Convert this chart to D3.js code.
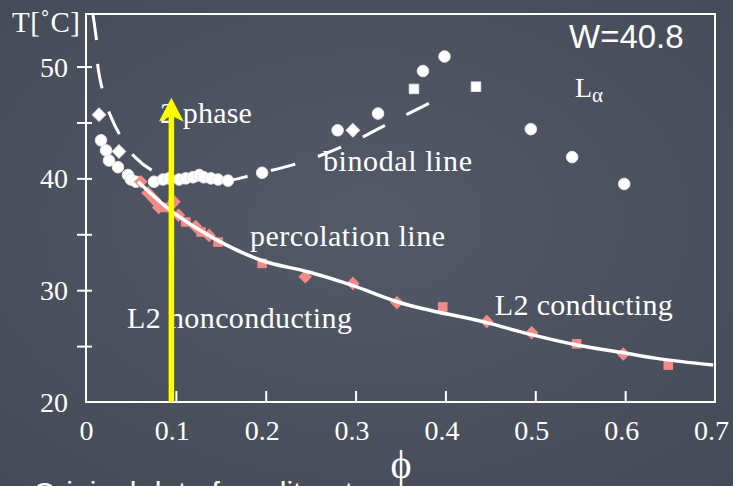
<!DOCTYPE html>
<html>
<head>
<meta charset="utf-8">
<script src="https://cdn.jsdelivr.net/npm/d3@7"></script>
<style>
  html, body { margin: 0; padding: 0; background: #4b505e; }
  svg { display: block; }
</style>
</head>
<body>
<svg id="chart" width="733" height="486"></svg>
<script>
// ---------- data ----------
const xTicks = [0, 0.1, 0.2, 0.3, 0.4, 0.5, 0.6, 0.7];
const xTickLabels = ["0", "0.1", "0.2", "0.3", "0.4", "0.5", "0.6", "0.7"];
const yTicks = [20, 25, 30, 35, 40, 45, 50];
const yTickLabels = ["20", "", "30", "", "40", "", "50"];

// binodal (white) measured points
const binodalPhi = [0.0145, 0.0167, 0.0223, 0.0367, 0.0256, 0.0356, 0.0467, 0.050, 0.0556,
  0.0757, 0.0857, 0.0923, 0.1035, 0.111, 0.119, 0.126, 0.131, 0.139, 0.147, 0.158,
  0.196, 0.280, 0.297, 0.325, 0.365, 0.375, 0.399, 0.434, 0.495, 0.541, 0.599];
const binodalT = [45.7, 43.4, 42.5, 42.4, 41.6, 41.0, 40.3, 39.9, 39.7,
  39.7, 39.9, 40.0, 39.9, 40.0, 40.1, 40.3, 40.1, 40.0, 39.9, 39.8,
  40.5, 44.3, 44.3, 45.8, 48.0, 49.6, 50.9, 48.2, 44.4, 41.9, 39.5];
const binodalShape = ["d", "c", "c", "d", "c", "c", "c", "c", "c",
  "c", "c", "c", "c", "c", "c", "c", "c", "c", "c", "c",
  "c", "c", "d", "c", "s", "c", "c", "s", "c", "c", "c"];

// percolation (pink) measured points
const percPhi = [0.061, 0.069, 0.076, 0.081, 0.089, 0.098, 0.103, 0.111, 0.122, 0.128, 0.137, 0.147,
  0.196, 0.244, 0.297, 0.346, 0.397, 0.446, 0.496, 0.546, 0.598, 0.648];
const percT = [39.7, 38.7, 38.1, 37.4, 37.4, 37.9, 36.7, 36.1, 35.7, 35.2, 34.9, 34.3,
  32.4, 31.2, 30.6, 28.9, 28.5, 27.2, 26.2, 25.2, 24.3, 23.3];
const percShape = ["d", "d", "d", "d", "s", "d", "d", "s", "d", "s", "d", "s",
  "s", "d", "d", "d", "s", "d", "d", "s", "d", "s"];

// percolation fit line
const percLinePhi = [0.058, 0.093, 0.141, 0.194, 0.249, 0.294, 0.349, 0.446, 0.497, 0.546, 0.598, 0.635, 0.698];
const percLineT = [39.7, 37.2, 34.7, 32.7, 31.6, 30.5, 28.9, 27.1, 26.0, 25.1, 24.4, 23.9, 23.3];

// binodal guide line (dashed)
const binLinePhi = [0.0078, 0.012, 0.0134, 0.019, 0.0267, 0.039, 0.0545, 0.079, 0.116, 0.158, 0.185, 0.238, 0.290, 0.339, 0.389];
const binLineT = [54.6, 52.1, 49.9, 47.7, 45.7, 43.7, 41.9, 40.5, 39.9, 39.8, 40.3, 41.4, 43.0, 45.0, 47.0];

// yellow arrow
const arrowPhi = 0.095;
const arrowFromT = 20;
const arrowToT = 47.2;

// text annotations
const annoText = ["2 phase", "binodal line", "percolation line", "L2 nonconducting", "L2 conducting"];
const annoPhi = [0.0823, 0.2637, 0.1825, 0.0456, 0.455];
const annoT = [44.96, 40.66, 33.95, 26.6, 27.78];
const annoWidth = [92, 149, 195, 225, 178];

// ---------- drawing ----------
const W = 733, H = 486;
const mL = 86, mR = 715, mT = 14, mB = 402;
const svg = d3.select("#chart");
const serif = "'Liberation Serif', 'Times New Roman', serif";
const sans = "'Liberation Sans', Arial, sans-serif";

const x = d3.scaleLinear().domain([0, 0.7]).range([mL, mR]);
const y = d3.scaleLinear().domain([20, 54.7]).range([mB, mT]);

// background
const defs = svg.append("defs");
const grad = defs.append("radialGradient").attr("id", "bg").attr("cx", "50%").attr("cy", "45%").attr("r", "75%");
grad.append("stop").attr("offset", "0%").attr("stop-color", "#545968");
grad.append("stop").attr("offset", "100%").attr("stop-color", "#454a57");
svg.append("rect").attr("width", W).attr("height", H).attr("fill", "url(#bg)");

// frame
svg.append("rect")
  .attr("x", mL).attr("y", mT)
  .attr("width", mR - mL).attr("height", mB - mT)
  .attr("fill", "none").attr("stroke", "#fff").attr("stroke-width", 2);

// x axis
const xAxis = d3.axisBottom(x)
  .tickValues(xTicks)
  .tickFormat((d, i) => xTickLabels[i])
  .tickSizeInner(-11).tickSizeOuter(0);
const gx = svg.append("g").attr("transform", `translate(0,${mB})`).call(xAxis);
gx.select(".domain").remove();
gx.selectAll(".tick line").attr("stroke", "#fff").attr("stroke-width", 2)
  .filter(d => d === 0 || d === 0.7).remove();
gx.selectAll(".tick text")
  .attr("fill", "#fff").attr("font-family", serif).attr("font-size", 28)
  .attr("y", 38).attr("dy", 0)
  .attr("dx", d => d === 0 ? 0 : -4);

// y axis
const yAxis = d3.axisLeft(y)
  .tickValues(yTicks)
  .tickFormat((d, i) => yTickLabels[i])
  .tickSizeInner(9).tickSizeOuter(0);
const gy = svg.append("g").attr("transform", `translate(${mL},0)`).call(yAxis);
gy.select(".domain").remove();
gy.selectAll(".tick line").attr("stroke", "#fff").attr("stroke-width", 2).attr("x2", 6).attr("x1", -9)
  .filter(d => d === 20).remove();
gy.selectAll(".tick text")
  .attr("fill", "#fff").attr("font-family", serif).attr("font-size", 28)
  .attr("x", -18).attr("dy", "0.34em");

// axis titles
svg.append("text").attr("x", 12).attr("y", 32)
  .attr("fill", "#fff").attr("font-family", serif).attr("font-size", 29)
  .attr("textLength", 68).attr("lengthAdjust", "spacing")
  .text("T[˚C]");
svg.append("text").attr("x", 401).attr("y", 478).attr("text-anchor", "middle")
  .attr("fill", "#fff").attr("font-family", serif).attr("font-size", 40)
  .text("ϕ");

// binodal dashed line
const binLine = binLinePhi.map((p, i) => [p, binLineT[i]]);
svg.append("path")
  .attr("d", d3.line().x(d => x(d[0])).y(d => y(d[1])).curve(d3.curveCatmullRom)(binLine))
  .attr("fill", "none").attr("stroke", "#fff").attr("stroke-width", 3)
  .attr("stroke-dasharray", "25,24");

// symbols: diamonds are squares turned by 45 degrees
function sym(shape, size) {
  const t = shape === "c" ? d3.symbolCircle : d3.symbolSquare;
  return d3.symbol().type(t).size(size)();
}
function place(d) {
  return `translate(${x(d.p)},${y(d.t)})` + (d.s === "d" ? " rotate(45)" : "");
}

// binodal points
const binPts = binodalPhi.map((p, i) => ({ p, t: binodalT[i], s: binodalShape[i] }));
svg.append("g").selectAll("path").data(binPts).join("path")
  .attr("transform", place)
  .attr("d", d => sym(d.s, d.s === "d" ? 90 : d.s === "s" ? 90 : 105))
  .attr("fill", "#fff").attr("stroke", "#e8e8ea").attr("stroke-width", 1);

// percolation points
const pPts = percPhi.map((p, i) => ({ p, t: percT[i], s: percShape[i] }));
svg.append("g").selectAll("path").data(pPts).join("path")
  .attr("transform", place)
  .attr("d", d => sym(d.s, d.s === "d" ? 92 : 92))
  .attr("fill", "#f28a88");

// percolation line
const pLine = percLinePhi.map((p, i) => [p, percLineT[i]]);
svg.append("path")
  .attr("d", d3.line().x(d => x(d[0])).y(d => y(d[1])).curve(d3.curveMonotoneX)(pLine))
  .attr("fill", "none").attr("stroke", "#fff").attr("stroke-width", 3.5);

// annotations
annoText.forEach((t, i) => {
  svg.append("text")
    .attr("x", x(annoPhi[i])).attr("y", y(annoT[i]))
    .attr("fill", "#fff").attr("font-family", serif).attr("font-size", 30)
    .attr("textLength", annoWidth[i]).attr("lengthAdjust", "spacing")
    .text(t);
});

// L alpha
const la = svg.append("text").attr("x", 575).attr("y", 97)
  .attr("fill", "#fff").attr("font-family", serif).attr("font-size", 28);
la.append("tspan").text("L");
la.append("tspan").attr("font-size", 21).attr("dy", 5).text("α");

// W=40.8
svg.append("text").attr("x", 569).attr("y", 48)
  .attr("fill", "#fff").attr("font-family", sans).attr("font-size", 33)
  .text("W=40.8");

// yellow arrow
const ax = x(arrowPhi), ay0 = y(arrowFromT), ay1 = y(arrowToT);
svg.append("line").attr("x1", ax).attr("x2", ax).attr("y1", ay0).attr("y2", ay1 + 18)
  .attr("stroke", "#ffff00").attr("stroke-width", 5.5);
svg.append("path")
  .attr("d", `M${ax},${ay1} L${ax + 12.5},${ay1 + 24} L${ax},${ay1 + 18} L${ax - 12.5},${ay1 + 24} Z`)
  .attr("fill", "#ffff00");

// bottom caption (cut off at the bottom edge, as in the reference)
svg.append("text").attr("x", 33).attr("y", 503)
  .attr("fill", "#fff").attr("font-family", sans).attr("font-size", 30)
  .text("Original data from literature");
</script>
</body>
</html>
